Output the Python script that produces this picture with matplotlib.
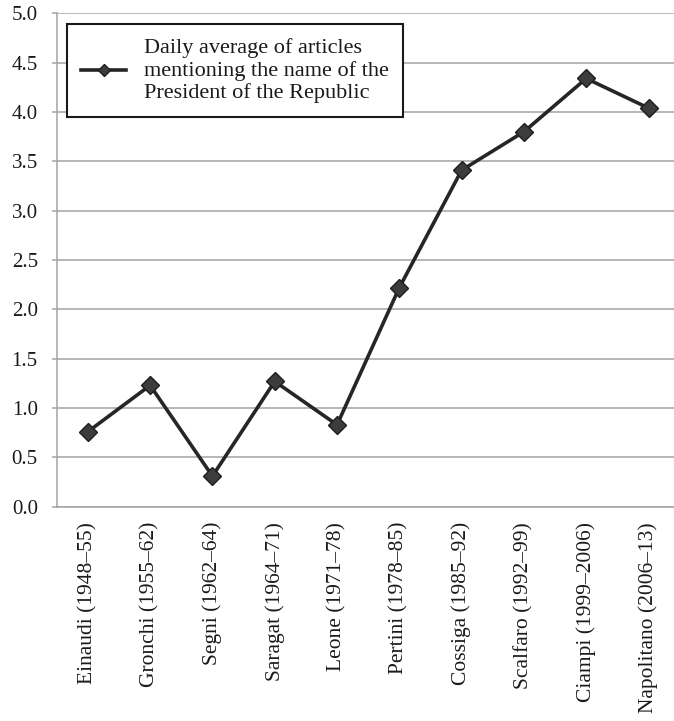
import matplotlib
matplotlib.use("Agg")
import matplotlib.pyplot as plt

presidents = ["Einaudi (1948–55)", "Gronchi (1955–62)", "Segni (1962–64)",
              "Saragat (1964–71)", "Leone (1971–78)", "Pertini (1978–85)",
              "Cossiga (1985–92)", "Scalfaro (1992–99)", "Ciampi (1999–2006)",
              "Napolitano (2006–13)"]
daily_avg = [0.76, 1.23, 0.31, 1.27, 0.83, 2.22, 3.41, 3.80, 4.34, 4.04]
yticks = [0.0, 0.5, 1.0, 1.5, 2.0, 2.5, 3.0, 3.5, 4.0, 4.5, 5.0]
label = "Daily average of articles\nmentioning the name of the\nPresident of the Republic"

plt.rcParams['font.family'] = ['Liberation Serif', 'DejaVu Serif']

fig = plt.figure(figsize=(6.74, 7.21), dpi=100)
ax = fig.add_axes([0.0841, 0.2972, 0.9243, 0.6843])

grid_c = '#a3a3a3'
x = list(range(len(presidents)))
ax.plot(x, daily_avg, color='#262626', lw=2.6, marker='D', ms=9.4,
        mfc='#3c3c3c', mec='#1e1e1e', mew=1.0, label=label, zorder=3)

ax.set_xlim(-0.5, len(presidents) - 0.5)
ax.set_ylim(0, 5.0)
ax.set_yticks(yticks)
ax.set_yticklabels([f"{v:.1f}" for v in yticks])
ax.set_xticks(x)
ax.set_xticklabels(presidents, rotation=90, va='top', ha='center')

ax.yaxis.grid(True, color=grid_c, lw=1.1)
ax.set_axisbelow(True)
for s in ['top', 'right']:
    ax.spines[s].set_visible(False)
for s in ['left', 'bottom']:
    ax.spines[s].set_color(grid_c)
    ax.spines[s].set_linewidth(1.1)

ax.tick_params(axis='y', length=3.6, width=1.1, color=grid_c, pad=10,
               labelsize=15, labelcolor='#1a1a1a')
ax.tick_params(axis='x', length=0, pad=11, labelsize=15.5, labelcolor='#1a1a1a')

leg = ax.legend(loc='upper left', bbox_to_anchor=(67 / 674, 1 - 24 / 721),
                bbox_transform=fig.transFigure, fontsize=16, frameon=True,
                fancybox=False, framealpha=1, borderaxespad=0, borderpad=0.62,
                handlelength=2.05, handletextpad=0.8, markerscale=0.65)
leg.get_frame().set_edgecolor('#1a1a1a')
leg.get_frame().set_linewidth(1.5)
for t in leg.get_texts():
    t.set_color('#1a1a1a')

fig.savefig("out.png", dpi=100)
